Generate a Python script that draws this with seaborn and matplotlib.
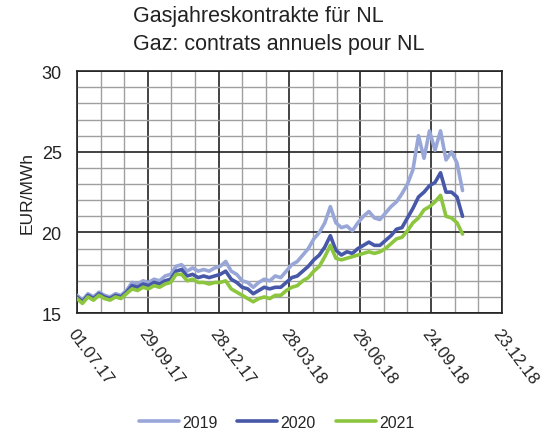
import pandas as pd
import matplotlib
matplotlib.use('Agg')
import matplotlib.pyplot as plt
import matplotlib.dates as mdates
import seaborn as sns

# Wochenwerte ab 01.07.2017 (EUR/MWh)
start = '2017-07-01'
n_weeks = 71

y2019 = [16.1, 15.8, 16.2, 16.0, 16.3, 16.1, 16.0, 16.2, 16.1, 16.4,
         16.9, 16.8, 17.0, 16.9, 17.1, 17.0, 17.3, 17.4, 17.9, 18.0,
         17.6, 17.8, 17.6, 17.7, 17.6, 17.8, 17.9, 18.2, 17.6, 17.4,
         17.0, 16.9, 16.6, 16.9, 17.1, 17.0, 17.3, 17.2, 17.6, 18.0,
         18.2, 18.6, 19.0, 19.6, 20.0, 20.6, 21.6, 20.6, 20.3, 20.4,
         20.1, 20.6, 21.0, 21.3, 20.9, 20.8, 21.2, 21.6, 21.9, 22.4,
         23.0, 23.9, 26.0, 24.6, 26.3, 25.1, 26.3, 24.5, 25.0, 24.3,
         22.6]
y2020 = [16.0, 15.7, 16.1, 15.9, 16.2, 16.0, 15.9, 16.1, 16.0, 16.3,
         16.7, 16.6, 16.8, 16.7, 16.9, 16.8, 17.0, 17.1, 17.6, 17.7,
         17.3, 17.4, 17.2, 17.3, 17.2, 17.3, 17.4, 17.6, 17.1, 16.9,
         16.6, 16.5, 16.2, 16.4, 16.6, 16.5, 16.6, 16.6, 16.9, 17.2,
         17.3, 17.6, 17.9, 18.3, 18.6, 19.1, 19.8, 18.9, 18.6, 18.8,
         18.7, 19.0, 19.2, 19.4, 19.2, 19.2, 19.5, 19.8, 20.2, 20.3,
         20.9, 21.5, 22.2, 22.5, 22.9, 23.1, 23.7, 22.5, 22.5, 22.2,
         21.0]
y2021 = [15.9, 15.6, 16.0, 15.8, 16.1, 15.9, 15.8, 16.0, 15.9, 16.2,
         16.5, 16.4, 16.6, 16.5, 16.7, 16.6, 16.8, 16.9, 17.4, 17.4,
         17.0, 17.1, 16.9, 16.9, 16.8, 16.9, 16.9, 17.0, 16.5, 16.3,
         16.1, 15.9, 15.7, 15.9, 16.0, 15.9, 16.1, 16.1, 16.4, 16.6,
         16.7, 17.0, 17.2, 17.6, 17.9, 18.5, 19.2, 18.4, 18.3, 18.4,
         18.5, 18.6, 18.7, 18.8, 18.7, 18.8, 19.0, 19.3, 19.6, 19.7,
         20.1, 20.6, 20.9, 21.4, 21.6, 21.9, 22.3, 21.0, 20.9, 20.6,
         19.9]

dates = pd.date_range(start, periods=n_weeks, freq='7D')
df = pd.DataFrame({'Datum': dates, '2019': y2019, '2020': y2020, '2021': y2021})
df = df.melt(id_vars='Datum', var_name='Kontrakt', value_name='Preis')

farben = {'2019': '#98a7d8', '2020': '#4858a8', '2021': '#8cc63e'}

sns.set_theme(style='white')
plt.rcParams['font.family'] = ['Liberation Sans', 'DejaVu Sans']

fig = plt.figure(figsize=(5.42, 4.35), dpi=100)
ax = fig.add_axes([0.142, 0.278, 0.784, 0.556])

sns.lineplot(data=df, x='Datum', y='Preis', hue='Kontrakt', palette=farben,
             linewidth=2.6, ax=ax, legend=False, zorder=3)

# Gitter: Haupt- und Nebenlinien
major_x = pd.date_range('2017-07-01', periods=7, freq='90D')
minor_x = pd.date_range('2017-07-01', periods=19, freq='30D')
ax.set_xlim(major_x[0], major_x[-1])
ax.set_ylim(15, 30)
ax.set_xticks(major_x)
ax.set_xticks(minor_x, minor=True)
ax.set_yticks([15, 20, 25, 30])
ax.set_yticks(range(15, 31), minor=True)
ax.grid(which='minor', color='#a0a0a0', linewidth=1.0)
ax.grid(which='major', color='#222222', linewidth=1.2)
ax.xaxis.set_major_formatter(mdates.DateFormatter('%d.%m.%y'))
ax.tick_params(which='both', length=0, colors='#222222')
ax.tick_params(axis='x', labelsize=12, pad=9)
ax.tick_params(axis='y', labelsize=13, pad=11)
plt.setp(ax.get_xticklabels(), rotation=-53, ha='left', va='top', rotation_mode='anchor')
for s in ax.spines.values():
    s.set_color('#222222')
    s.set_linewidth(1.2)

ax.set_xlabel('')
ax.set_ylabel('EUR/MWh', fontsize=12.5, color='#222222', labelpad=5)

fig.text(0.245, 0.961, 'Gasjahreskontrakte für NL', fontsize=15.5, color='#222222', va='center')
fig.text(0.245, 0.897, 'Gaz: contrats annuels pour NL', fontsize=15.5, color='#222222', va='center')

handles = [plt.Line2D([], [], color=farben[k], linewidth=2.6) for k in ['2019', '2020', '2021']]
fig.legend(handles, ['2019', '2020', '2021'], loc='center', bbox_to_anchor=(0.51, 0.027),
           ncol=3, frameon=False, fontsize=11.5, handlelength=2.5, handletextpad=0.2,
           columnspacing=1.25, borderpad=0)

fig.savefig('out.png', dpi=100)
